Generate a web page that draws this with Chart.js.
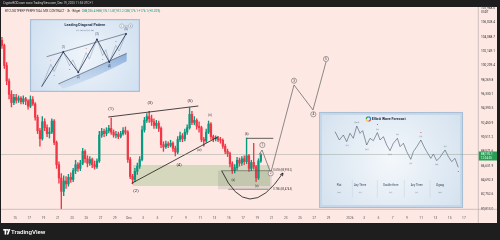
<!DOCTYPE html>
<html><head><meta charset="utf-8">
<script src="https://cdn.jsdelivr.net/npm/chart.js@4/dist/chart.umd.min.js"></script>
<style>html,body{margin:0;padding:0;background:#1e1e1e;}canvas{display:block}</style>
</head><body>
<canvas id="c" width="500" height="240"></canvas>
<script>
// ---------------- DATA ----------------
// 8h candles, BTCUSDT perp
const candleStartDay = -2;      // day index (0 = Nov 15)
const candlesPerDay = 3;
const firstOpen = 103600;
const closes = [102900,100200,98100, 96300,95200,95900, 95500,95800,95300, 95700,95400,94700,
  95600,95000,93200, 91400,90300,92600, 91800,91000,91200, 92700,89800,86800,
  85000,83200,84600, 84200,85100,84800, 86000,86800,86300, 87000,88600,87600,
  87000,87500,86800, 86500,87300,90800, 91300,91000,91400, 91700,91200,90800,
  90900,90600,91000, 91400,91200,87500, 85200,84800,85900, 86600,87500,91500,
  92800,93300,93000, 92600,92100,92400, 91700,89500,89200, 89600,89400,89700,
  89000,88500,90200, 90700,90300,91200, 91800,93600,92500, 92800,92000,91800,
  90200,90000,91200, 92300,90600,90300, 90400,90200,90100, 89300,88600,88300,
  86900,86000,86400, 87400,87000,87600, 87200,88000,86300, 87100,86500,85000,
  87300,88176];
const highs = [104000,103100,100600, 98400,96800,96300, 96300,96100,96000, 96100,95900,95600,
  96100,96000,95200, 93500,91700,93300, 93000,92200,91800, 93000,92900,90000,
  87200,85600,85300, 85200,85500,85700, 86300,87400,87100, 87400,89000,88800,
  88000,87900,87700, 87300,87600,91300, 91700,91600,91800, 92100,93100,91500,
  91300,91200,91300, 91800,91900,91400, 87800,85500,86300, 87000,87900,92000,
  93200,93700,94000, 93500,93000,92800, 92700,91900,89900, 90000,89900,90100,
  89900,89300,90600, 91200,91000,91600, 92200,94500,94000, 93300,93000,92600,
  92000,90500,91600, 92700,92500,90800, 90700,90600,90500, 90300,89600,88900,
  88500,87200,86800, 87800,87700,87900, 88000,90400,88200, 87400,89700,86700,
  87600,88300];
const lows = [102500,99800,97600, 95700,94600,94900, 95100,95200,95000, 95000,94900,94300,
  94500,94800,92800, 91000,89300,90100, 91400,90600,90400, 91000,89500,86300,
  84300,80700,82600, 83600,83900,84400, 84500,85600,85900, 86000,86800,87100,
  86500,86700,86400, 86200,86300,87100, 90500,90600,90700, 91100,90900,90500,
  90400,90300,90400, 90800,90900,87100, 84900,84200,84500, 85500,86300,87300,
  91200,92500,92500, 92100,91700,91700, 91300,89100,88600, 89000,89100,89200,
  88600,88000,88300, 89900,89900,90000, 90900,91600,92200, 92200,91600,91200,
  89900,89300,89800, 91000,90200,89900, 90000,89900,89700, 89000,88300,87900,
  86500,85600,85700, 86100,86600,86700, 86800,86900,85900, 86000,86200,84500,
  84800,87100];
const lastPrice = 88176.1;

// time axis
const timeTickDays = [0,2,4,6,8,10,12,14,16,18,20,22,24,26,28,30,32,34,36,38,40,42,44,47,49,51,53,55,57,59,61,63];
const timeTickLabels = ['15','17','19','21','23','25','27','29','Dec','3','5','7','9','11','13','15','17','19','21','23','25','27','29','2026','3','5','7','9','11','13','15','17'];

// drawings (day index, price)
const upperTrend = [{x:13.09,y:93240},{x:25.73,y:94730}];
const lowerTrend = [{x:16.38,y:84285},{x:28.53,y:90580}];
const bLevel = [{x:32.5,y:90360},{x:36.25,y:90360}];
const fib618 = [{x:29.0,y:85987},{x:36.03,y:85987}];
const fib786 = [{x:29.94,y:83475},{x:35.55,y:83475}];
const forecastPath = [{x:34.25,y:88176},{x:34.67,y:88780},{x:35.89,y:85680},{x:39.16,y:97570},{x:41.82,y:94190},{x:43.65,y:100680}];
const supportZone = {d0:16.56, d1:35.79, p0:86757, p1:83919};
const fibZone = {d0:28.5, d1:36.03, p0:85987, p1:83475};
const cupArc = {d0:29.0, p0:85987, dc:32.65, pc:78500, d1:37.61, p1:85676};
const mainWaveLabels = [
  {t:'(1)',d:13.47,p:94283},{t:'(2)',d:16.98,p:83286},{t:'(3)',d:18.95,p:95093},
  {t:'(4)',d:23.02,p:86758},{t:'(5)',d:24.56,p:95404}];
const minorWaveLabels = [
  {t:'(w)',d:25.87,p:88784},{t:'(x)',d:27.37,p:93513},{t:'(a)',d:30.64,p:84637},
  {t:'(b)',d:32.52,p:90946},{t:'(c)',d:33.92,p:83826}];
const circleLabels = [
  {t:'1',d:34.71,p:89460},{t:'2',d:35.89,p:85636},{t:'3',d:39.16,p:98146},
  {t:'4',d:41.87,p:93607},{t:'5',d:43.65,p:101078}];
const fibLabels = [{t:'0.618 (85,995.2)',d:36.25,p:85987},{t:'0.786 (83,474.5)',d:36.25,p:83475}];

// insets (boxes in day/price, contents in box fractions)
const leadingBox = {d0:2.1, d1:17.54, p0:106480, p1:96620};
const leadingMain = [[0.106,0.927],[0.303,0.452],[0.439,0.730],[0.609,0.278],[0.721,0.589],[0.873,0.205]];
const leadingSub = [[0.106,0.927],[0.19,0.62],[0.22,0.72],[0.303,0.452],[0.36,0.64],[0.39,0.56],[0.439,0.730],
  [0.51,0.46],[0.54,0.55],[0.609,0.278],[0.66,0.50],[0.69,0.42],[0.721,0.589],[0.78,0.36],[0.81,0.44],[0.873,0.205]];
const leadingUpper = [[0.152,0.516],[0.879,0.196]];
const leadingLower = [[0.258,0.890],[0.879,0.470]];
const leadingLabels = [{t:'(1)',u:0.303,v:0.39},{t:'(2)',u:0.439,v:0.80},{t:'(3)',u:0.609,v:0.215},{t:'(4)',u:0.721,v:0.655},{t:'(5)',u:0.873,v:0.14}];
const leadingRed = [{t:'1',u:0.19,v:0.57},{t:'2',u:0.22,v:0.77},{t:'a',u:0.36,v:0.69},{t:'3',u:0.51,v:0.41},{t:'b',u:0.66,v:0.55},{t:'5',u:0.78,v:0.31},{t:'4',u:0.81,v:0.49}];

const forecastBox = {d0:42.67, d1:62.88, p0:93920, p1:80950};
const forecastWave = [[0.111,0.205],[0.141,0.292],[0.169,0.240],[0.192,0.309],[0.215,0.222],[0.238,0.274],[0.262,0.146],
  [0.285,0.222],[0.303,0.194],[0.331,0.344],[0.354,0.274],[0.377,0.299],[0.405,0.215],[0.424,0.292],[0.447,0.257],
  [0.470,0.344],[0.493,0.403],[0.516,0.326],[0.544,0.274],[0.563,0.361],[0.586,0.326],[0.609,0.413],[0.637,0.493],
  [0.655,0.413],[0.679,0.361],[0.707,0.292],[0.729,0.361],[0.748,0.413],[0.776,0.483],[0.794,0.438],[0.817,0.507],
  [0.840,0.472],[0.875,0.396],[0.898,0.465],[0.921,0.517],[0.944,0.483],[0.967,0.576]];
const forecastWaveLabels = [
  {t:'((W))',u:0.262,v:0.11,red:false},{t:'(X)',u:0.195,v:0.345,red:false},{t:'(W)',u:0.331,v:0.39,red:true},
  {t:'A',u:0.405,v:0.135,red:true},{t:'(X)',u:0.405,v:0.18,red:false},{t:'(W)',u:0.493,v:0.445,red:false},
  {t:'(X)',u:0.544,v:0.235,red:false},{t:'(Y)',u:0.637,v:0.535,red:true},{t:'A',u:0.707,v:0.215,red:true},
  {t:'(X)',u:0.707,v:0.255,red:false},{t:'(W)',u:0.817,v:0.55,red:false},{t:'(X)',u:0.875,v:0.355,red:false},
  {t:'Z',u:0.967,v:0.62,red:true}];
const forecastTable = ['Flat','Any Three','Double three','Any Three','Zigzag'];
const forecastTableSub = ['(W)','(X)','(Y)','(X)','(Z)'];
const forecastTableU = [0.139,0.285,0.498,0.678,0.840];
const forecastSepU = [0.231,0.405,0.592,0.771];

// ---------------- STYLE ----------------
const UP = '#089981', DOWN = '#f23645', PINK = '#fde8e4', DARK = '#1e1e1e';
const FONT = 'Roboto, "Liberation Sans", sans-serif';

const opens = closes.map((c,i)=> i===0 ? firstOpen : closes[i-1]);
const tDay = i => candleStartDay + (i + 0.5) / candlesPerDay;
const colors = closes.map((c,i)=> c >= opens[i] ? UP : DOWN);
const fmt = v => v.toLocaleString('en-US',{minimumFractionDigits:1, maximumFractionDigits:1});

function P(chart,d,p){return {x:chart.scales.x.getPixelForValue(d), y:chart.scales.y.getPixelForValue(p)};}
function txt(ctx,s,x,y,size,color,align,weight){
  ctx.font=(weight||'normal')+' '+size+'px '+FONT; ctx.fillStyle=color;
  ctx.textAlign=align||'center'; ctx.textBaseline='middle'; ctx.fillText(s,x,y);
}
function boxRect(chart,b){const a=P(chart,b.d0,b.p0), c=P(chart,b.d1,b.p1); return {l:a.x,t:a.y,w:c.x-a.x,h:c.y-a.y};}
function U(r,u,v){return [r.l+u*r.w, r.t+v*r.h];}
function poly(ctx,r,pts){ctx.beginPath(); pts.forEach((p,i)=>{const q=U(r,p[0],p[1]); i?ctx.lineTo(q[0],q[1]):ctx.moveTo(q[0],q[1]);});}

function frame(ctx,r,inner,outer){
  const g = ctx.createRadialGradient(r.l+r.w/2, r.t+r.h/2, 2, r.l+r.w/2, r.t+r.h/2, r.w*0.6);
  g.addColorStop(0, inner); g.addColorStop(1, outer);
  ctx.fillStyle = g; ctx.fillRect(r.l, r.t, r.w, r.h);
  ctx.strokeStyle = '#a8bfd6'; ctx.lineWidth = 1.2; ctx.strokeRect(r.l+0.6, r.t+0.6, r.w-1.2, r.h-1.2);
}

function drawLeading(ctx, r){
  frame(ctx, r, '#eef4fa', '#cfdff0');
  txt(ctx,'Leading Diagonal Pattern', ...U(r,0.5,0.085), 3.6, '#26324a','center','bold');
  txt(ctx,'(1)-(2)-(3)-(4)-(5)', ...U(r,0.5,0.15), 2.4, '#55607a');
  [0.834,0.915].forEach((u,k)=>{const c=U(r,u,0.095); ctx.beginPath(); ctx.arc(c[0],c[1],2.1,0,Math.PI*2);
    ctx.fillStyle='#f4f6f9'; ctx.fill(); ctx.strokeStyle='#8a94a6'; ctx.lineWidth=0.5; ctx.stroke();
    txt(ctx, k?'×':'i', c[0], c[1], 2.8, '#55607a');});
  const a=U(r,0.855,0.095), b=U(r,0.895,0.095); ctx.beginPath(); ctx.moveTo(a[0],a[1]); ctx.lineTo(b[0],b[1]); ctx.strokeStyle='#8a94a6'; ctx.stroke();
  // shaded band under lower line
  const L0=U(r,...leadingLower[0]), L1=U(r,...leadingLower[1]);
  ctx.beginPath(); ctx.moveTo(L0[0],L0[1]); ctx.lineTo(L1[0],L1[1]);
  const e=U(r,0.879,0.58), m=U(r,0.55,0.84), s=U(r,0.30,0.955);
  ctx.lineTo(e[0],e[1]); ctx.quadraticCurveTo(m[0],m[1],s[0],s[1]); ctx.closePath();
  const g=ctx.createLinearGradient(0,L1[1],0,s[1]); g.addColorStop(0,'rgba(70,125,195,0.55)'); g.addColorStop(1,'rgba(120,165,215,0.15)');
  ctx.fillStyle=g; ctx.fill();
  ctx.strokeStyle='#3f4a60'; ctx.lineWidth=0.6;
  poly(ctx,r,leadingUpper); ctx.stroke(); poly(ctx,r,leadingLower); ctx.stroke();
  ctx.strokeStyle='#7f8ca5'; ctx.lineWidth=0.45; poly(ctx,r,leadingSub); ctx.stroke();
  ctx.strokeStyle='#263350'; ctx.lineWidth=0.8; poly(ctx,r,leadingMain); ctx.stroke();
  leadingMain.slice(1).forEach(p=>{const q=U(r,p[0],p[1]); ctx.beginPath(); ctx.arc(q[0],q[1],0.9,0,Math.PI*2); ctx.fillStyle='#263350'; ctx.fill();});
  leadingLabels.forEach(l=>txt(ctx,l.t,...U(r,l.u,l.v),2.6,'#2a3550'));
  leadingRed.forEach(l=>txt(ctx,l.t,...U(r,l.u,l.v),2.2,'#d23a3a'));
}

function drawForecast(ctx, r){
  frame(ctx, r, '#f3f7fb', '#d3e1ee');
  ctx.strokeStyle='#c3d5e8'; ctx.lineWidth=1.6; ctx.strokeRect(r.l+2, r.t+2, r.w-4, r.h-4);
  // logo
  const c=U(r,0.343,0.073); const segs=['#e53935','#fbc02d','#43a047','#1e88e5'];
  segs.forEach((col,k)=>{ctx.beginPath(); ctx.arc(c[0],c[1],2.1,k*Math.PI/2,(k+1)*Math.PI/2); ctx.strokeStyle=col; ctx.lineWidth=1.1; ctx.stroke();});
  txt(ctx,'Elliott Wave Forecast', ...U(r,0.366,0.073), 3.6, '#22324a','left','bold');
  ctx.strokeStyle='#3d4556'; ctx.lineWidth=0.55; poly(ctx,r,forecastWave); ctx.stroke();
  forecastWaveLabels.forEach(l=>txt(ctx,l.t,...U(r,l.u,l.v),2.1,l.red?'#d0342c':'#555d6b'));
  forecastTable.forEach((s,i)=>{txt(ctx,s,...U(r,forecastTableU[i],0.76),2.7,'#33405a');
    txt(ctx,forecastTableSub[i],...U(r,forecastTableU[i],0.84),2.2,'#6b7485');});
  ctx.strokeStyle='#c2d0de'; ctx.lineWidth=0.5;
  forecastSepU.forEach(u=>{const a=U(r,u,0.71), b=U(r,u,0.89); ctx.beginPath(); ctx.moveTo(a[0],a[1]); ctx.lineTo(b[0],b[1]); ctx.stroke();});
}

const decor = {
  id:'decor',
  beforeDraw(chart){
    const {ctx, chartArea:a} = chart; const X=chart.scales.x, Y=chart.scales.y;
    ctx.save();
    ctx.fillStyle=DARK; ctx.fillRect(0,0,chart.width,chart.height);
    ctx.fillStyle=PINK; ctx.fillRect(a.left, a.top-1, Y.right-a.left, X.bottom-a.top+1);
    ctx.restore();
  },
  beforeDatasetsDraw(chart){
    const ctx=chart.ctx; ctx.save();
    const z=boxRect(chart,supportZone); ctx.fillStyle='rgba(125,180,100,0.30)'; ctx.fillRect(z.l,z.t,z.w,z.h);
    const f=boxRect(chart,fibZone); ctx.fillStyle='rgba(90,110,85,0.15)'; ctx.fillRect(f.l,f.t,f.w,f.h);
    ctx.restore();
  },
  afterDatasetsDraw(chart){
    const ctx=chart.ctx; ctx.save();
    // cup arc with arrow
    const s=P(chart,cupArc.d0,cupArc.p0), c=P(chart,cupArc.dc,cupArc.pc), e=P(chart,cupArc.d1,cupArc.p1);
    ctx.beginPath(); ctx.moveTo(s.x,s.y); ctx.quadraticCurveTo(c.x,c.y,e.x,e.y); ctx.strokeStyle='#151515'; ctx.lineWidth=0.8; ctx.stroke();
    const ang=Math.atan2(e.y-c.y,e.x-c.x);
    ctx.beginPath(); ctx.moveTo(e.x,e.y);
    ctx.lineTo(e.x-3.2*Math.cos(ang-0.45), e.y-3.2*Math.sin(ang-0.45));
    ctx.moveTo(e.x,e.y); ctx.lineTo(e.x-3.2*Math.cos(ang+0.45), e.y-3.2*Math.sin(ang+0.45)); ctx.stroke();
    mainWaveLabels.forEach(l=>{const q=P(chart,l.d,l.p); txt(ctx,l.t,q.x,q.y,4.2,'#1d1d1d');});
    minorWaveLabels.forEach(l=>{const q=P(chart,l.d,l.p); txt(ctx,l.t,q.x,q.y,3,'#2a2a2a');});
    circleLabels.forEach(l=>{const q=P(chart,l.d,l.p); ctx.beginPath(); ctx.arc(q.x,q.y,2.6,0,Math.PI*2);
      ctx.fillStyle=PINK; ctx.fill(); ctx.strokeStyle='#6a6a6a'; ctx.lineWidth=0.6; ctx.stroke(); txt(ctx,l.t,q.x,q.y+0.2,3.2,'#444');});
    fibLabels.forEach(l=>{const q=P(chart,l.d,l.p); txt(ctx,l.t,q.x,q.y,2.6,'#3a3a3a','left');});
    ctx.restore();
  },
  afterDraw(chart){
    const {ctx, chartArea:a} = chart; const X=chart.scales.x, Y=chart.scales.y;
    ctx.save();
    drawLeading(ctx, boxRect(chart, leadingBox));
    drawForecast(ctx, boxRect(chart, forecastBox));
    // last price line
    const py=Y.getPixelForValue(lastPrice);
    ctx.strokeStyle='rgba(120,140,125,0.5)'; ctx.lineWidth=0.7; ctx.beginPath(); ctx.moveTo(a.left,py); ctx.lineTo(a.right,py); ctx.stroke();
    // separators
    ctx.strokeStyle='#b9aeac'; ctx.lineWidth=0.7;
    ctx.beginPath(); ctx.moveTo(a.right+0.3,a.top-1); ctx.lineTo(a.right+0.3,X.bottom); ctx.stroke();
    ctx.beginPath(); ctx.moveTo(a.left,a.bottom+0.3); ctx.lineTo(Y.right,a.bottom+0.3); ctx.stroke();
    // price box
    ctx.fillStyle='#2a9d55'; ctx.fillRect(a.right+0.7, py-3, Y.right-a.right-0.7, 9);
    txt(ctx, fmt(lastPrice), a.right+3, py, 3.1, '#fff', 'left');
    txt(ctx, '12:04:35', a.right+3, py+4, 2.8, '#e8ffe8', 'left');
    txt(ctx, 'USDT', a.right+3, a.top+4, 3, '#333', 'left');
    // header
    txt(ctx,'Crypto-BOD.com www.TradingView.com, Dec 19, 2025 11:55 UTC+1', 3, (a.top-1)/2, 3, '#cfcfcf','left');
    const head='BTCUSDTPERP PERPETUAL MIX CONTRACT · 3h · Bitget  ';
    txt(ctx, head, 5, a.top+3.5, 3, '#333','left');
    ctx.font='normal 3px '+FONT; const w=ctx.measureText(head).width;
    txt(ctx, 'O88,036.4 H88,176.1 L87,931.2 C88,176.1 +176.1 (+0.20%)', 5+w, a.top+3.5, 3, UP, 'left');
    // footer logo
    const fy = X.bottom + (chart.height - X.bottom)/2 + 0.5;
    ctx.fillStyle='#ffffff';
    ctx.fillRect(3.2, fy-3, 3.6, 1.6); ctx.fillRect(4.6, fy-3, 1.6, 5.6);
    ctx.beginPath(); ctx.arc(7.6, fy-2.1, 0.9, 0, Math.PI*2); ctx.fill();
    ctx.beginPath(); ctx.moveTo(8.6,fy-3); ctx.lineTo(10.4,fy-3); ctx.lineTo(8.4,fy+2.6); ctx.lineTo(6.8,fy+2.6); ctx.closePath(); ctx.fill();
    txt(ctx,'TradingView', 11, fy, 6.2, '#ffffff','left','500');
    ctx.restore();
  }
};

const lineDs = (data,color,w,dash)=>({type:'line', data, borderColor:color, borderWidth:w, pointRadius:0, borderDash:dash||[], fill:false, tension:0, order:0});

new Chart(document.getElementById('c').getContext('2d'), {
  type:'bar',
  data:{datasets:[
    lineDs(upperTrend,'#1a1a1a',0.8),
    lineDs(lowerTrend,'#1a1a1a',0.8),
    lineDs(bLevel,'#3a3a3a',0.8),
    lineDs(fib618,'#555',0.6),
    lineDs(fib786,'#555',0.6),
    lineDs(forecastPath,'#6e6e6e',0.8),
    {label:'body', data: closes.map((c,i)=>({x:tDay(i), y:[opens[i], c]})), backgroundColor:colors, barThickness:1.6, grouped:false, borderWidth:0, order:1},
    {label:'wick', data: closes.map((c,i)=>({x:tDay(i), y:[lows[i], highs[i]]})), backgroundColor:colors, barThickness:0.7, grouped:false, borderWidth:0, order:2}
  ]},
  options:{
    responsive:false, animation:false, devicePixelRatio:1,
    layout:{padding:{left:1, top:8, right:3, bottom:17}},
    plugins:{legend:{display:false}, tooltip:{enabled:false}},
    scales:{
      x:{type:'linear', min:-1.965, max:64.98, offset:false,
        grid:{display:false, drawTicks:false}, border:{display:false},
        afterFit(s){s.height=14;},
        afterBuildTicks(s){s.ticks = timeTickDays.map(v=>({value:v}));},
        ticks:{autoSkip:false, maxRotation:0, padding:7, font:{size:3.2, family:FONT}, color:'#555',
          callback:(v,i)=>timeTickLabels[i]}},
      y:{position:'right', min:80813, max:107968,
        grid:{display:false, drawTicks:false}, border:{display:false},
        afterFit(s){s.width=19;},
        ticks:{stepSize:2000, includeBounds:false, padding:3, font:{size:3.2, family:FONT}, color:'#333',
          callback:v=>fmt(v)}}
    }
  },
  plugins:[decor]
});
</script>
</body></html>
